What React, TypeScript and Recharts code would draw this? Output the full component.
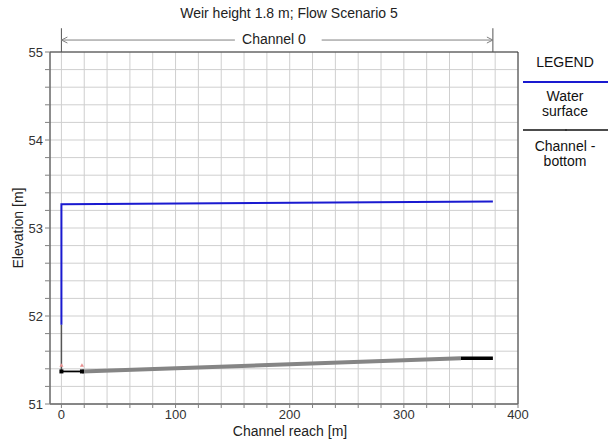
import React from 'react'
import {
  ComposedChart,
  Line,
  XAxis,
  YAxis,
  CartesianGrid,
  ReferenceLine,
  ReferenceArea,
} from 'recharts'

// water surface profile
const waterX = [0, 0, 378]
const waterY = [51.9, 53.27, 53.3]

// channel bottom pieces
const stepX = [0, 0, 18]
const stepY = [51.9, 51.37, 51.37]
const slopeX = [18, 350]
const slopeY = [51.37, 51.52]
const endX = [350, 378]
const endY = [51.52, 51.52]
const markX = [0, 18]
const markY = [51.44, 51.44]

const xTicks = [0, 20, 40, 60, 80, 100, 120, 140, 160, 180, 200, 220, 240, 260, 280, 300, 320, 340, 360, 380, 400]
const yTicks = [51, 51.2, 51.4, 51.6, 51.8, 52, 52.2, 52.4, 52.6, 52.8, 53, 53.2, 53.4, 53.6, 53.8, 54, 54.2, 54.4, 54.6, 54.8, 55]

const channelStart = 0
const channelEnd = 378

const zip = (xs: number[], ys: number[]) => xs.map((x, i) => ({ x, y: ys[i] }))

const FONT = '"Liberation Sans", Arial, sans-serif'

const ArrowLine = (props: any) => {
  const { x1, y1, x2, y2 } = props
  const dir = x2 > x1 ? 1 : -1
  return (
    <g>
      <line x1={x1} y1={y1} x2={x2} y2={y2} stroke="#808080" strokeWidth={1} />
      <path
        d={`M${x2 - dir * 6},${y2 - 3} L${x2},${y2} L${x2 - dir * 6},${y2 + 3}`}
        fill="none"
        stroke="#808080"
        strokeWidth={1}
      />
    </g>
  )
}

const Square = (props: any) => {
  const { cx, cy } = props
  if (cx == null || cy == null) return null
  return <rect x={cx - 2} y={cy - 2} width={4} height={4} fill="#000" />
}

const RedMark = (props: any) => {
  const { cx, cy } = props
  if (cx == null || cy == null) return null
  return <path d={`M${cx - 2},${cy + 1.5} L${cx},${cy - 2} L${cx + 2},${cy + 1.5} Z`} fill="#e89090" />
}

const legendText = (text: string, top: number) => (
  <div style={{ position: 'absolute', left: 520, width: 90, top, textAlign: 'center', fontSize: 14, lineHeight: '16px', color: '#111' }}>
    {text}
  </div>
)

export default function App() {
  return (
    <div style={{ position: 'absolute', left: 0, top: 0, width: 611, height: 441, background: '#fff', fontFamily: FONT }}>
      <div style={{ position: 'absolute', left: 0, width: 578, top: 5, textAlign: 'center', fontSize: 14, color: '#222' }}>
        Weir height 1.8 m; Flow Scenario 5
      </div>
      <div style={{ position: 'absolute', left: 238, width: 72, top: 31, textAlign: 'center', fontSize: 14, color: '#222', background: '#fff' }}>
        Channel 0
      </div>
      <ComposedChart
        width={611}
        height={441}
        margin={{ top: 52, right: 93, bottom: 0, left: 0 }}
        style={{ fontFamily: FONT }}
      >
        <CartesianGrid stroke="#cfcfcf" horizontalValues={yTicks} verticalValues={xTicks} />
        <XAxis
          type="number"
          dataKey="x"
          domain={[-10, 400]}
          ticks={xTicks}
          interval={0}
          allowDataOverflow
          height={37}
          tickSize={4}
          tickMargin={2}
          stroke="#808080"
          tick={{ fill: '#333', fontSize: 13 }}
          tickFormatter={(v: number) => (v % 100 === 0 ? String(v) : '')}
          label={{ value: 'Channel reach [m]', position: 'insideBottom', offset: 5, dx: 6, fill: '#222', fontSize: 14 }}
        />
        <YAxis
          type="number"
          domain={[51, 55]}
          ticks={yTicks}
          interval={0}
          allowDataOverflow
          width={50}
          tickSize={5}
          tickMargin={2}
          stroke="#808080"
          tick={{ fill: '#333', fontSize: 13 }}
          tickFormatter={(v: number) => (Math.abs(v - Math.round(v)) < 1e-6 ? String(Math.round(v)) : '')}
          label={{ value: 'Elevation [m]', angle: -90, position: 'center', dx: -7, fill: '#222', fontSize: 14 }}
        />
        <ReferenceArea x1={-10} x2={400} y1={51} y2={55} fill="none" stroke="#333" strokeWidth={1} ifOverflow="visible" />

        {/* channel extent markers above plot */}
        <ReferenceLine segment={[{ x: channelStart, y: 55 }, { x: channelStart, y: 55.27 }]} stroke="#555" ifOverflow="visible" />
        <ReferenceLine segment={[{ x: channelEnd, y: 55 }, { x: channelEnd, y: 55.27 }]} stroke="#555" ifOverflow="visible" />
        <ReferenceLine segment={[{ x: 152, y: 55.136 }, { x: channelStart, y: 55.136 }]} ifOverflow="visible" shape={ArrowLine} />
        <ReferenceLine segment={[{ x: 228, y: 55.136 }, { x: channelEnd, y: 55.136 }]} ifOverflow="visible" shape={ArrowLine} />

        <Line data={zip(stepX, stepY)} dataKey="y" stroke="#555" strokeWidth={1.5} dot={false} isAnimationActive={false} />
        <Line data={zip(stepX, stepY).slice(1)} dataKey="y" stroke="#000" strokeWidth={1.5} dot={<Square />} isAnimationActive={false} />
        <Line data={zip(slopeX, slopeY)} dataKey="y" stroke="#858585" strokeWidth={4} dot={false} isAnimationActive={false} />
        <Line data={zip(endX, endY)} dataKey="y" stroke="#000" strokeWidth={3.5} dot={false} isAnimationActive={false} />
        <Line data={zip(markX, markY)} dataKey="y" stroke="none" dot={<RedMark />} isAnimationActive={false} />
        <Line data={zip(waterX, waterY)} dataKey="y" stroke="#1a1ad0" strokeWidth={2} dot={false} isAnimationActive={false} />
      </ComposedChart>

      {/* legend */}
      {legendText('LEGEND', 54)}
      <svg width={90} height={80} style={{ position: 'absolute', left: 520, top: 75 }}>
        <line x1={3} y1={7} x2={88} y2={7} stroke="#1a1ad0" strokeWidth={2} />
        <line x1={3} y1={55} x2={88} y2={55} stroke="#111" strokeWidth={1.5} />
        <rect x={45} y={54} width={2} height={2} fill="#333" />
      </svg>
      {legendText('Water', 88)}
      {legendText('surface', 103)}
      {legendText('Channel -', 138)}
      {legendText('bottom', 153)}
    </div>
  )
}
